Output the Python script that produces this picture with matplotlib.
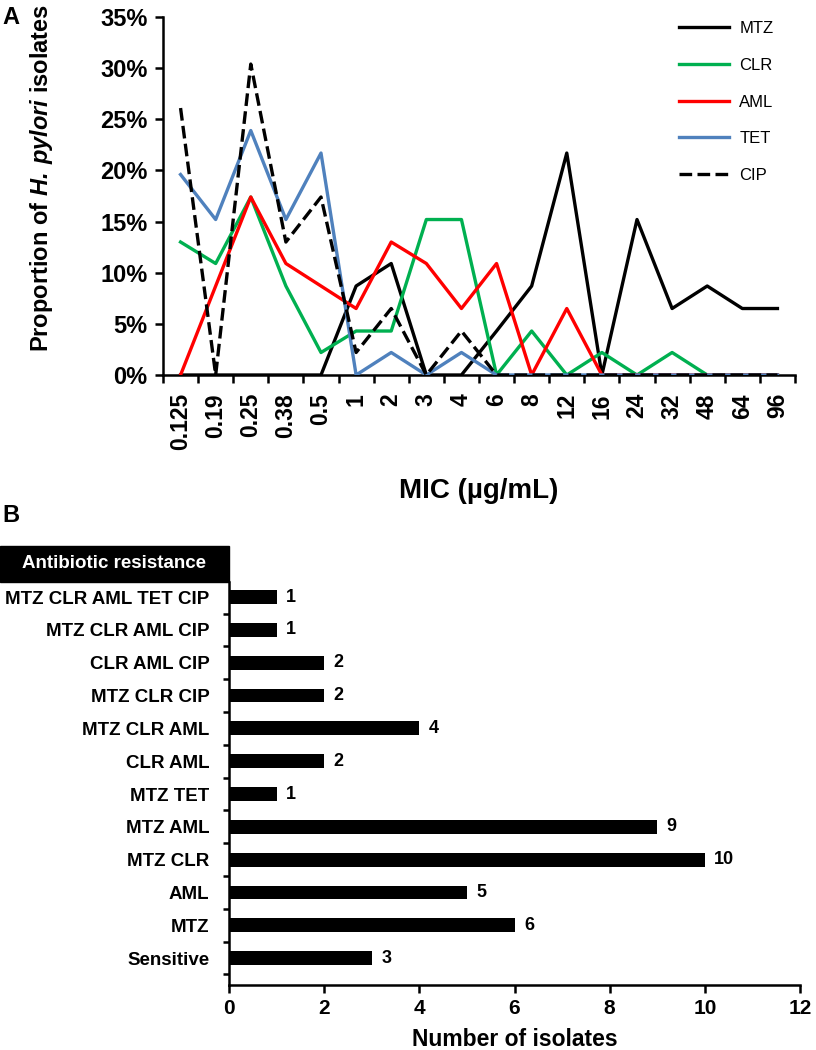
import numpy as np
import matplotlib
matplotlib.use("Agg")
import matplotlib.pyplot as plt
from matplotlib.patches import Rectangle
from matplotlib.ticker import PercentFormatter, MultipleLocator, FixedLocator

plt.rcParams['font.family'] = ['Liberation Sans', 'DejaVu Sans']
plt.rcParams['mathtext.fontset'] = 'custom'
plt.rcParams['mathtext.rm'] = 'Liberation Sans:bold'
plt.rcParams['mathtext.bf'] = 'Liberation Sans:bold'
plt.rcParams['mathtext.bfit'] = 'Liberation Sans:bold:italic'

# panel A: MIC distribution (% of 46 isolates)
mic = ['0.125', '0.19', '0.25', '0.38', '0.5', '1', '2', '3', '4', '6',
       '8', '12', '16', '24', '32', '48', '64', '96']
mtz = [0, 0, 0, 0, 0, 8.7, 10.9, 0, 0, 4.3, 8.7, 21.7, 0, 15.2, 6.5, 8.7, 6.5, 6.5]
clr = [13.0, 10.9, 17.4, 8.7, 2.2, 4.3, 4.3, 15.2, 15.2, 0, 4.3, 0, 2.2, 0, 2.2, 0, 0, 0]
aml = [0, 8.7, 17.4, 10.9, 8.7, 6.5, 13.0, 10.9, 6.5, 10.9, 0, 6.5, 0, 0, 0, 0, 0, 0]
tet = [19.6, 15.2, 23.9, 15.2, 21.7, 0, 2.2, 0, 2.2, 0, 0, 0, 0, 0, 0, 0, 0, 0]
cip = [26.1, 0, 30.4, 13.0, 17.4, 2.2, 6.5, 0, 4.3, 0, 0, 0, 0, 0, 0, 0, 0, 0]

# panel B: resistance patterns
patterns = ['Sensitive', 'MTZ', 'AML', 'MTZ CLR', 'MTZ AML', 'MTZ TET', 'CLR AML',
            'MTZ CLR AML', 'MTZ CLR CIP', 'CLR AML CIP', 'MTZ CLR AML CIP',
            'MTZ CLR AML TET CIP']
counts = [3, 6, 5, 10, 9, 1, 2, 4, 2, 2, 1, 1]

fig = plt.figure(figsize=(8.16, 10.5), dpi=100)

# ---- A ----
ax = fig.add_axes([163/816, 1-375/1050, 632/816, 358/1050])
x = np.arange(len(mic))
lw = 2.4
ax.plot(x, mtz, color='black', lw=lw, label='MTZ', zorder=3)
ax.plot(x, clr, color='#00b050', lw=lw, label='CLR', zorder=3)
ax.plot(x, aml, color='#ff0000', lw=lw, label='AML', zorder=3)
ax.plot(x, tet, color='#4f81bd', lw=lw, label='TET', zorder=3)
ax.plot(x, cip, color='black', lw=lw, ls=(0, (3.8, 1.6)), label='CIP', zorder=3)
ax.set_xlim(-0.5, len(mic) - 0.5)
ax.set_ylim(0, 35)
ax.yaxis.set_major_locator(MultipleLocator(5))
ax.yaxis.set_major_formatter(PercentFormatter(decimals=0))
ax.set_xticks(x)
ax.set_xticklabels(mic, rotation=90)
ax.xaxis.set_minor_locator(FixedLocator(np.arange(-0.5, len(mic), 1)))
ax.tick_params(axis='x', which='major', length=0, pad=13)
ax.tick_params(axis='x', which='minor', length=6, width=1.8, direction='out')
ax.tick_params(axis='y', length=6, width=1.8, direction='out', pad=5)
for lab in ax.get_xticklabels():
    lab.set_fontweight('bold')
    lab.set_fontsize(16.5)
for lab in ax.get_yticklabels():
    lab.set_fontweight('bold')
    lab.set_fontsize(17)
for s in ['top', 'right']:
    ax.spines[s].set_visible(False)
for s in ['left', 'bottom']:
    ax.spines[s].set_linewidth(1.8)
fig.text(42/816, 1-178/1050, r'Proportion of $\mathbfit{H.\,pylori}$ isolates',
         fontsize=17, fontweight='bold', rotation=90, ha='center', va='center')
ax.set_xlabel('MIC (µg/mL)', fontsize=20, fontweight='bold', labelpad=20)
ax.legend(loc='upper left', bbox_to_anchor=(671/816, 1-13/1050),
          bbox_transform=fig.transFigure, frameon=False, fontsize=12,
          handlelength=3.0, handletextpad=0.6, labelspacing=1.3, borderpad=0)

# ---- B ----
bx = fig.add_axes([229/816, 1-985/1050, 571/816, 403/1050])
y = np.arange(len(patterns))
bx.barh(y, counts, height=0.42, color='black')
for yi, c in zip(y, counts):
    bx.text(c + 0.2, yi, str(c), va='center', ha='left', fontsize=13,
            fontweight='bold')
bx.set_xlim(0, 12)
bx.set_ylim(-0.82, len(patterns) - 1 + 0.46)
bx.xaxis.set_major_locator(MultipleLocator(2))
bx.set_yticks(y)
bx.set_yticklabels(patterns)
bx.yaxis.set_minor_locator(FixedLocator(np.arange(-0.5, len(patterns) - 1, 1)))
bx.tick_params(axis='y', which='major', length=0, pad=14)
bx.tick_params(axis='y', which='minor', length=4, width=1.8, direction='out')
bx.tick_params(axis='x', length=6, width=1.8, direction='out', pad=4)
for lab in bx.get_yticklabels():
    lab.set_fontweight('bold')
    lab.set_fontsize(13.5)
for lab in bx.get_xticklabels():
    lab.set_fontweight('bold')
    lab.set_fontsize(15)
for s in ['top', 'right']:
    bx.spines[s].set_visible(False)
for s in ['left', 'bottom']:
    bx.spines[s].set_linewidth(1.8)
bx.set_xlabel('Number of isolates', fontsize=16.5, fontweight='bold', labelpad=7)

# header box
fig.patches.append(Rectangle((0, 1-582/1050), 229/816, 36/1050,
                             transform=fig.transFigure, color='black'))
fig.text(114/816, 1-564/1050, 'Antibiotic resistance', color='white',
         fontsize=13.5, fontweight='bold', ha='center', va='center')

fig.text(2/816, 1-18/1050, 'A', fontsize=17, fontweight='bold', va='center')
fig.text(2/816, 1-516/1050, 'B', fontsize=17, fontweight='bold', va='center')

fig.savefig('out.png', dpi=100)
